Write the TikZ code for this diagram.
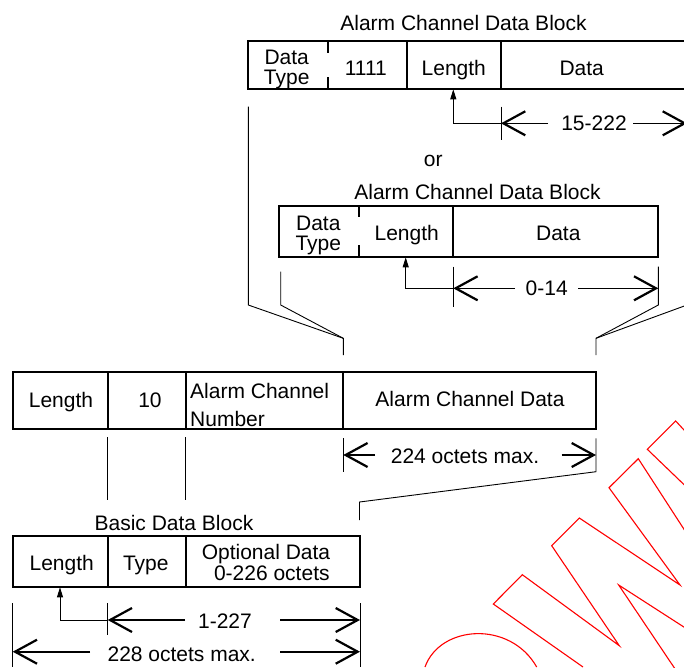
\documentclass[tikz,border=0pt]{standalone}
\usepackage{fontspec}
\setmainfont{Liberation Sans}
\usetikzlibrary{arrows.meta}
\begin{document}
\begin{tikzpicture}[x=1pt,y=-1pt,
  box/.style={line width=1.8pt},
  thinline/.style={line width=0.9pt},
  dim/.style={line width=1.6pt,-{Straight Barb[length=22pt,width=24pt,line width=2.2pt]}},
  ptr/.style={line width=0.9pt,-{Triangle[length=10pt,width=6pt]}},
  lbl/.style={font=\fontsize{21}{21}\selectfont,inner sep=0pt,anchor=base},
  two/.style={font=\fontsize{21}{19.5}\selectfont,inner sep=0pt,anchor=base,align=center},
  wm/.style={red,line width=1.1pt,line join=miter}]
\useasboundingbox (0,0) rectangle (684,667);

% ---------- top alarm channel data block ----------
\node[lbl] (t1title) at (463.5,30) {Alarm Channel Data Block};
\draw[box] (248.3,41) rectangle (687,89.3);
\draw[box] (328.3,41) -- (328.3,53);
\draw[box] (328.3,77) -- (328.3,89.3);
\draw[box] (406.7,41) -- (406.7,89.3);
\draw[box] (501,41) -- (501,89.3);
\node[two] (t1type) at (286.7,84) {Data\\Type};
\node[lbl] (t1code) at (365.8,75) {1111};
\node[lbl] (t1len) at (453.8,75) {Length};
\node[lbl] (t1data) at (581.7,75) {Data};
\coordinate (t1lenb) at (453.3,89.3);
\coordinate (t1c) at (453.3,123.3);
\coordinate (t1l) at (501,123.3);
\coordinate (t1r) at (687,123.3);
\draw[ptr] (t1l) -- (t1c) -- (t1lenb);
\draw[thinline] (501,106.7) -- (501,140);
\node[lbl] (t1dim) at (594,130) {15-222};
\coordinate (t1da) at (548,123.3);
\coordinate (t1db) at (633,123.3);
\draw[dim] (t1da) -- (t1l);
\draw[dim] (t1db) -- (t1r);

\node[lbl] (or) at (433.3,166.7) {or};

% ---------- second alarm channel data block ----------
\node[lbl] (t2title) at (477.5,199.3) {Alarm Channel Data Block};
\draw[box] (279.3,205.7) rectangle (658.3,257.3);
\draw[box] (359,205.7) -- (359,217);
\draw[box] (359,245) -- (359,257.3);
\draw[box] (453.3,205.7) -- (453.3,257.3);
\node[two] (t2type) at (318.3,250) {Data\\Type};
\node[lbl] (t2len) at (406.7,240) {Length};
\node[lbl] (t2data) at (558.3,240) {Data};
\coordinate (t2lenb) at (405.7,257.3);
\coordinate (t2c) at (405.7,288.3);
\coordinate (t2l) at (453.3,288.3);
\coordinate (t2r) at (658.3,288.3);
\draw[ptr] (t2l) -- (t2c) -- (t2lenb);
\draw[thinline] (453.3,266.7) -- (453.3,306.7);
\node[lbl] (t2dim) at (546.7,295) {0-14};
\coordinate (t2da) at (515,288.3);
\coordinate (t2db) at (578,288.3);
\draw[dim] (t2da) -- (t2l);
\draw[dim] (t2db) -- (t2r);

% ---------- funnels to alarm channel data ----------
\coordinate (fl) at (343.3,338.3);
\coordinate (fr) at (596,338.3);
\draw[thinline] (248.3,106.7) -- (248.3,305) -- (fl);
\draw[thinline] (280.7,271.7) -- (280.7,305) -- (fl) -- (343.3,355);
\draw[thinline] (687,106.7) -- (687,305) -- (fr);
\draw[thinline] (658.3,266.7) -- (658.3,305) -- (fr) -- (596,355);

% ---------- main row ----------
\draw[box] (12.7,371.7) rectangle (596,429);
\draw[box] (107.7,371.7) -- (107.7,429);
\draw[box] (185.7,371.7) -- (185.7,429);
\draw[box] (343.3,371.7) -- (343.3,429);
\node[lbl] (mlen) at (61,407.7) {Length};
\node[lbl] (mten) at (150,407.7) {10};
\node[font=\fontsize{21}{28}\selectfont,inner sep=0pt,anchor=base west,align=left] (mnum) at (190,426.7) {Alarm Channel\\Number};
\node[lbl] (mdata) at (470,406.7) {Alarm Channel Data};
\coordinate (mdl) at (343.3,455);
\coordinate (mdr) at (596,455);
\draw[thinline] (343.3,438.3) -- (343.3,471.7);
\draw[thinline] (596,438.3) -- (596,471.7) -- (359.5,502) -- (359.5,520);
\node[lbl] (mdim) at (465,463.3) {224 octets max.};
\coordinate (mda) at (375,455);
\coordinate (mdb) at (561.7,455);
\draw[dim] (mda) -- (mdl);
\draw[dim] (mdb) -- (mdr);
\draw[thinline] (107.7,437.3) -- (107.7,500);
\draw[thinline] (185.7,437.3) -- (185.7,500);

% ---------- basic data block ----------
\node[lbl] (btitle) at (174,530) {Basic Data Block};
\draw[box] (12.7,536) rectangle (360,587.3);
\draw[box] (107.7,536) -- (107.7,587.3);
\draw[box] (186,536) -- (186,587.3);
\node[lbl] (blen) at (61.7,570.7) {Length};
\node[lbl] (btype) at (145.8,570.7) {Type};
\node[font=\fontsize{21}{18.5}\selectfont,inner sep=0pt,anchor=base,align=center] (bopt) at (266,580) {Optional Data\\\hphantom{0}0-226 octets};
\coordinate (blenb) at (60,587.3);
\coordinate (bc) at (60,620);
\coordinate (bl) at (107.7,620);
\coordinate (br) at (360,620);
\draw[ptr] (bl) -- (bc) -- (blenb);
\draw[thinline] (107.7,603.3) -- (107.7,635);
\draw[thinline] (12.7,603.3) -- (12.7,667);
\draw[thinline] (360,603.3) -- (360,667);
\node[lbl] (bdim1) at (225,628) {1-227};
\coordinate (b1a) at (185,620);
\coordinate (b1b) at (280,620);
\draw[dim] (b1a) -- (bl);
\draw[dim] (b1b) -- (br);
\node[lbl] (bdim2) at (181.7,661.7) {228 octets max.};
\coordinate (b2l) at (12.7,651.7);
\coordinate (b2r) at (360,651.7);
\coordinate (b2a) at (90,651.7);
\coordinate (b2b) at (280,651.7);
\draw[dim] (b2a) -- (b2l);
\draw[dim] (b2b) -- (b2r);

% ---------- watermark outline ----------
\draw[wm] (583,667) -- (493.3,604) -- (522.3,574.7) -- (619.3,645.7) -- (551.7,545.7)
  -- (579.3,518) -- (680,585) -- (609,487.7) -- (638.3,458.7) -- (700,554);
\draw[wm] (700,637.4) -- (618.7,585) -- (682.5,680);
\draw[wm] (700,500) -- (647.3,449.3) -- (675.7,421) -- (700,447.3);
\draw[wm] (425,667) .. controls (440,625) and (510,620) .. (536.7,667);
\end{tikzpicture}
\end{document}
